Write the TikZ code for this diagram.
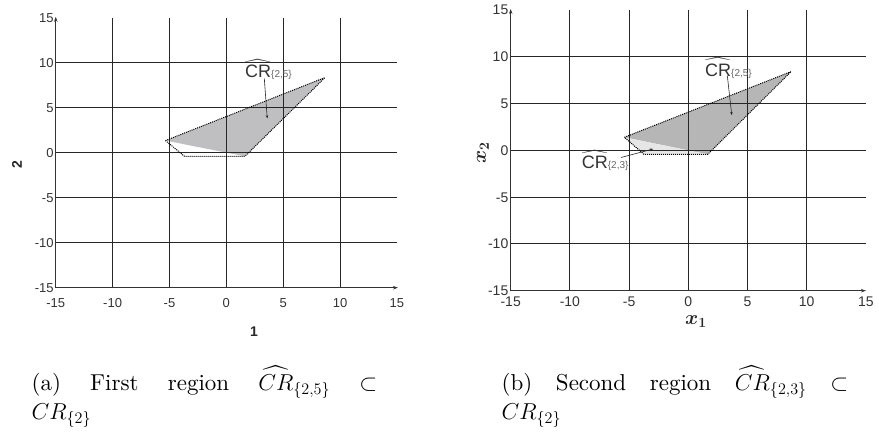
\RequirePackage{fix-cm}
\documentclass[tikz,border=0pt]{standalone}
\usepackage{amsmath}
\usepackage{fontspec}
\newfontfamily\ticksf{Liberation Sans}
\newfontfamily\captfont{lmroman10-regular.otf}
\usetikzlibrary{arrows.meta}
\definecolor{regA}{HTML}{BFBFC1}
\definecolor{regB}{HTML}{B6B6B7}
\definecolor{regC}{HTML}{E6E6E7}
\newcommand\crlab[1]{\textcolor{black!80}{$\widehat{\mbox{CR}}$}{\fontsize{10}{10}\selectfont\textcolor{black!60}{\{#1\}}}}
\tikzset{
  gridl/.style={line width=1pt, black!85},
  axisl/.style={line width=0.8pt, black!80, -{Stealth[length=5pt,width=3.5pt]}},
  outl/.style={line width=1pt, dash pattern=on 1pt off 1pt, black},
  tickA/.style={font=\ticksf\fontsize{13}{13}\selectfont, text=black!80, inner sep=0pt},
  tickB/.style={font=\ticksf\fontsize{14}{14}\selectfont, text=black!80, inner sep=0pt},
  axlab/.style={font=\ticksf\bfseries\fontsize{14}{14}\selectfont, text=black!85, inner sep=0pt},
  mathlab/.style={font=\fontsize{20}{20}\selectfont, text=black!85, inner sep=0pt},
  crnode/.style={font=\ticksf\fontsize{18}{18}\selectfont, inner sep=0pt, anchor=base west},
  callout/.style={line width=0.6pt, black!85, -{Stealth[length=3pt,width=2.6pt]}},
  capt/.style={font=\captfont\fontsize{23}{28}\selectfont, inner sep=0pt, anchor=base west}
}
\begin{document}
\begin{tikzpicture}[x=1pt,y=-1pt]
\useasboundingbox (0,0) rectangle (879,434);
% ---------- left plot ----------
\begin{scope}[shift={(226.3,152.7)},x=11.37pt,y=9pt]
  \coordinate (a1) at (-5.35,1.35);
  \coordinate (b1) at (8.68,8.35);
  \coordinate (c1) at (1.64,-0.4);
  \coordinate (d1) at (-3.68,-0.4);
  \fill[regA] (a1) -- (b1) -- (c1) -- cycle;
  \foreach \v in {-10,-5,0,5,10} {
    \draw[gridl] (\v,-15) -- (\v,15);
    \draw[gridl] (-15,\v) -- (15,\v);
  }
  \draw[axisl] (-15,-15) -- (15.1,-15);
  \draw[axisl] (-15,-15) -- (-15,15.1);
  \draw[outl] (a1) -- (b1) -- (c1) -- (d1) -- cycle;
  \foreach \v [count=\i] in {-15,-10,-5,0,5,10,15} {
    \node[tickA, anchor=base, yshift=-20pt] (lxt\i) at (\v,-15) {\v};
    \node[tickA, anchor=base east, xshift=-2pt, yshift=-4.7pt] (lyt\i) at (-15,\v) {\v};
  }
  \coordinate (t1) at (3.6,3.82);
\end{scope}
\node[axlab] (lxl) at (254,331.7) {1};
\node[axlab, rotate=90] (lyl) at (17,165) {2};
\node[crnode] (lab1) at (245,77.5) {\crlab{2,5}};
\coordinate (s1) at (264.3,78.5);
\draw[callout] (s1) -- (t1);
% ---------- right plot ----------
\begin{scope}[shift={(688.3,150.3)},x=11.84pt,y=9.36pt]
  \coordinate (a2) at (-5.4,1.39);
  \coordinate (b2) at (8.67,8.4);
  \coordinate (c2) at (1.64,-0.43);
  \coordinate (d2) at (-3.74,-0.43);
  \fill[regB] (a2) -- (b2) -- (c2) -- cycle;
  \fill[regC] (a2) -- (c2) -- (d2) -- cycle;
  \foreach \v in {-10,-5,0,5,10} {
    \draw[gridl] (\v,-15) -- (\v,15);
    \draw[gridl] (-15,\v) -- (15,\v);
  }
  \draw[axisl] (-15,-15) -- (15,-15);
  \draw[axisl] (-15,-15) -- (-15,15.1);
  \draw[outl] (a2) -- (b2) -- (c2) -- (d2) -- cycle;
  \foreach \v [count=\i] in {-15,-10,-5,0,5,10,15} {
    \node[tickB, anchor=base, yshift=-16pt] (rxt\i) at (\v,-15) {\v};
    \node[tickB, anchor=base east, xshift=-2.2pt, yshift=-5pt] (ryt\i) at (-15,\v) {\v};
  }
  \coordinate (t2) at (3.67,3.77);
  \coordinate (t3) at (-2.98,0.14);
\end{scope}
\node[mathlab] (rxl) at (696,322) {$\boldsymbol{x}_{\boldsymbol{1}}$};
\node[mathlab, rotate=90] (ryl) at (483,153) {$\boldsymbol{x}_{\boldsymbol{2}}$};
\node[crnode] (lab2) at (705,76) {\crlab{2,5}};
\coordinate (s2) at (727.3,75.5);
\draw[callout] (s2) -- (t2);
\node[crnode] (lab3) at (581.7,168.3) {\crlab{2,3}};
\coordinate (s3) at (621,157.5);
\draw[callout] (s3) -- (t3);
% ---------- captions ----------
\node[capt] (capa1) at (31.5,390) {\makebox[345.5pt][s]{(a) First region $\widehat{CR}_{\{2,5\}}$ $\subset$}};
\node[capt] (capa2) at (31.5,419) {$CR_{\{2\}}$};
\node[capt] (capb1) at (501.5,390) {\makebox[346.5pt][s]{(b) Second region $\widehat{CR}_{\{2,3\}}$ $\subset$}};
\node[capt] (capb2) at (501.5,419) {$CR_{\{2\}}$};
\end{tikzpicture}
\end{document}
